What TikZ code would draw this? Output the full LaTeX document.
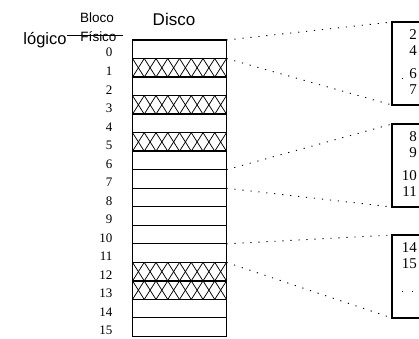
\documentclass[tikz,border=0pt]{standalone}
\usepackage{fontspec}
\setmainfont{Liberation Serif}
\setsansfont{Liberation Sans}

\begin{document}
\begin{tikzpicture}[x=1pt,y=-1pt,
  blk/.style={draw,line width=1pt,minimum width=94pt,minimum height=18.53pt,inner sep=0pt,outer sep=0pt},
  bad/.style={blk,line width=1.6pt},
  ibox/.style={draw,line width=1.5pt,anchor=north west,minimum width=60pt,minimum height=83pt,inner sep=0pt,outer sep=0pt},
  link/.style={line width=0.9pt,dash pattern=on 1.2pt off 6.8pt},
  num/.style={font=\fontsize{13}{15}\selectfont,anchor=east,inner sep=0pt},
  bnum/.style={font=\fontsize{15}{17}\selectfont,anchor=east,inner sep=0.5pt,fill=white},
  hdr/.style={font=\sffamily\fontsize{13.5}{15}\selectfont,inner sep=0pt}]
  \useasboundingbox (0,0) rectangle (419,338);
  \clip (0,0) rectangle (419,338);
  % disco
  \foreach \i in {0,...,15}
    \node[blk] (r\i) at (179.5,{49.27+18.53*\i}) {};
  \foreach \i in {1,3,5,12,13}{
    \begin{scope}
      \clip (r\i.south west) rectangle (r\i.north east);
      \foreach \k in {-1,...,9}{
        \draw[line width=0.75pt] ([xshift={\k*11.75pt}]r\i.north west) -- ++(11.75,18.53);
        \draw[line width=0.75pt] ([xshift={\k*11.75pt}]r\i.north west) -- ++(-11.75,18.53);
      }
    \end{scope}
    \node[bad] at (r\i) {};
  }
  \draw[line width=1.3pt] (r0.north west) rectangle (r15.south east);
  \foreach \i in {0,...,15}
    \node[num] (n\i) at (112.5,{52.7+18.53*\i}) {\i};
  % cabecalho
  \node[hdr] (bloco) at (97,18) {Bloco};
  \node[hdr] (fisico) at (98.5,36.5) {Físico};
  \node[hdr,font=\sffamily\fontsize{16.5}{18}\selectfont] (logico) at (45,40) {lógico};
  \node[hdr,font=\sffamily\fontsize{17}{19}\selectfont] (disco) at (174,19) {Disco};
  \coordinate (cut) at (123,35);
  \draw[line width=0.8pt] (logico.east |- cut) -- (cut);
  % blocos de indices
  \node[ibox] (b1) at (392,22) {};
  \node[ibox] (b2) at (392,124) {};
  \node[ibox] (b3) at (392,235) {};
  \foreach \b in {b1,b2,b3}
    \draw[line width=0.9pt,dash pattern=on 1.2pt off 8.8pt] ([yshift=-56pt]\b.north west) -- ++(30,0);
  \node[bnum] (t2) at (417.5,34.5) {2};
  \node[bnum] (t4) at (417.5,51) {4};
  \node[bnum] (t6) at (417.5,73.5) {6};
  \node[bnum] (t7) at (417.5,90) {7};
  \node[bnum] (t8) at (417.5,136.5) {8};
  \node[bnum] (t9) at (417.5,153) {9};
  \node[bnum] (t10) at (417.5,175.5) {10};
  \node[bnum] (t11) at (417.5,192) {11};
  \node[bnum] (t14) at (417.5,247.5) {14};
  \node[bnum] (t15) at (417.5,264) {15};
  % ligacoes
  \draw[link] (r0.north east) -- (b1.north west);
  \draw[link] (r1.north east) -- (b1.south west);
  \draw[link] (r7.north east) -- (b2.north west);
  \draw[link] (r8.north east) -- (b2.south west);
  \draw[link] (r11.north east) -- (b3.north west);
  \draw[link] (r12.north east) -- (b3.south west);
\end{tikzpicture}
\end{document}
